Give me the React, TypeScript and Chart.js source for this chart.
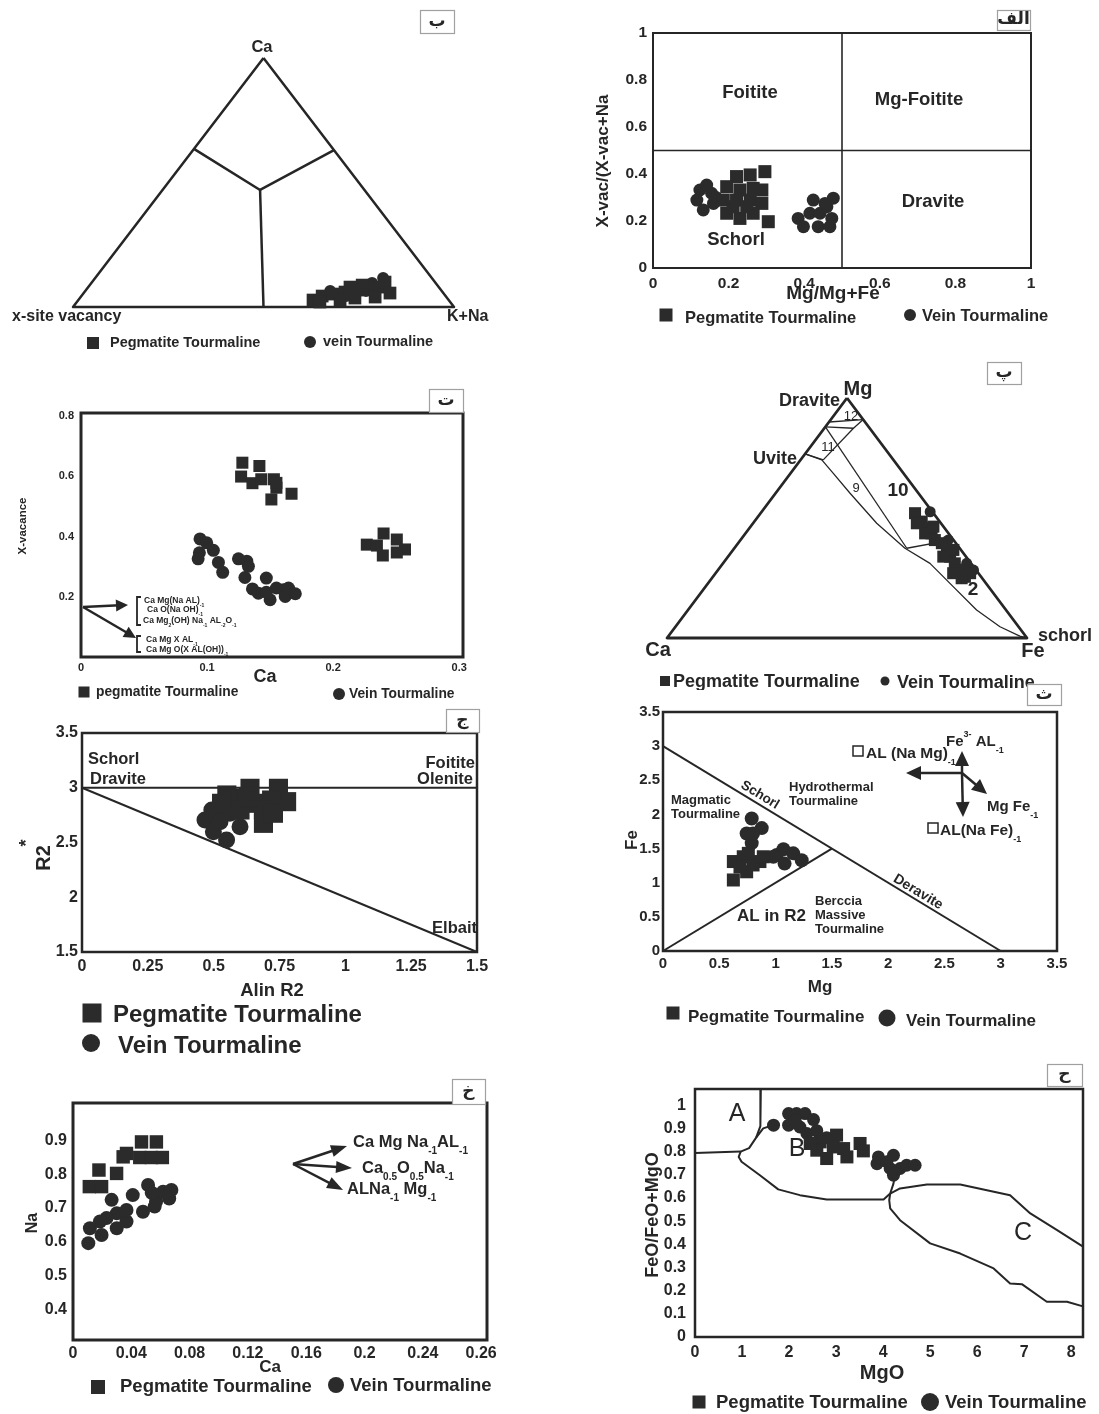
import React, { useEffect, useRef } from 'react';
import { Chart, registerables } from 'chart.js';

Chart.register(...registerables);

const SANS = '"Liberation Sans", Arial, Helvetica, sans-serif';
const ARABIC = '"DejaVu Sans", "Noto Sans", sans-serif';
const INK = '#262626';
const MARK = '#2b2b2b';

type Pt = number[];
type Ctx = CanvasRenderingContext2D;

// ================= DATA =================

// ---- Panel ب : X-site ternary, triples [Ca, X-vacancy, K+Na]
const beCorners: Pt[] = [[1, 0, 0], [0, 1, 0], [0, 0, 1], [1, 0, 0]];
const beCentre: Pt = [0.47, 0.274, 0.256];
const beLeftEdge: Pt = [0.635, 0.365, 0];
const beRightEdge: Pt = [0.63, 0, 0.37];
const beBase: Pt = [0, 0.5, 0.5];
const bePegmatite: Pt[] = [
  [0.028, 0.356, 0.616], [0.044, 0.324, 0.632], [0.052, 0.292, 0.656], [0.06, 0.256, 0.684],
  [0.068, 0.221, 0.711], [0.076, 0.188, 0.736], [0.08, 0.154, 0.766], [0.1, 0.131, 0.769],
  [0.04, 0.187, 0.773], [0.036, 0.242, 0.722], [0.028, 0.285, 0.687], [0.02, 0.342, 0.638],
  [0.056, 0.14, 0.804], [0.088, 0.197, 0.715], [0.08, 0.233, 0.687],
];
const beVein: Pt[] = [
  [0.116, 0.128, 0.756], [0.064, 0.199, 0.737], [0.044, 0.261, 0.695], [0.064, 0.293, 0.643], [0.096, 0.167, 0.737],
];

// ---- Panel الف : Mg/(Mg+Fe) vs X-vac/(X-vac+Na)
const alefTicks = [0, 0.2, 0.4, 0.6, 0.8, 1];
const alefTickLabels = ['0', '0.2', '0.4', '0.6', '0.8', '1'];
const alefDividerV: Pt[] = [[0.5, 0], [0.5, 1]];
const alefDividerH: Pt[] = [[0, 0.5], [1, 0.5]];
const alefPegmatite: Pt[] = [
  [0.296, 0.41], [0.257, 0.396], [0.221, 0.389], [0.195, 0.346], [0.23, 0.332], [0.265, 0.339],
  [0.288, 0.332], [0.186, 0.289], [0.221, 0.289], [0.257, 0.289], [0.288, 0.275], [0.195, 0.233],
  [0.23, 0.211], [0.265, 0.233], [0.305, 0.197], [0.248, 0.261], [0.212, 0.261],
];
const alefVein: Pt[] = [
  [0.124, 0.332], [0.142, 0.353], [0.116, 0.289], [0.133, 0.247], [0.16, 0.275], [0.155, 0.318], [0.167, 0.3],
  [0.384, 0.211], [0.398, 0.176], [0.424, 0.289], [0.437, 0.176], [0.46, 0.261], [0.477, 0.297],
  [0.468, 0.176], [0.473, 0.211], [0.415, 0.233], [0.442, 0.233], [0.455, 0.275],
];

// ---- Panel ت : Ca vs X-vacance
const teXTicks = [0, 0.1, 0.2, 0.3];
const teXTickLabels = ['0', '0.1', '0.2', '0.3'];
const teYTicks = [0.2, 0.4, 0.6, 0.8];
const teYTickLabels = ['0.2', '0.4', '0.6', '0.8'];
const tePegmatite: Pt[] = [
  [0.128, 0.645], [0.1415, 0.634], [0.127, 0.599], [0.136, 0.577], [0.143, 0.59], [0.153, 0.59],
  [0.155, 0.562], [0.151, 0.523], [0.167, 0.542], [0.155, 0.578],
  [0.2267, 0.373], [0.24, 0.41], [0.2505, 0.39], [0.257, 0.357], [0.2394, 0.337], [0.2505, 0.347], [0.2347, 0.37],
];
const teVein: Pt[] = [
  [0.0944, 0.392], [0.0997, 0.379], [0.105, 0.354], [0.0939, 0.346], [0.0929, 0.326], [0.109, 0.314],
  [0.1124, 0.281], [0.1249, 0.326], [0.1315, 0.318], [0.1328, 0.301], [0.13, 0.264], [0.147, 0.262],
  [0.136, 0.226], [0.1407, 0.212], [0.15, 0.19], [0.155, 0.229], [0.1606, 0.223], [0.162, 0.201],
  [0.17, 0.21], [0.1646, 0.229], [0.147, 0.215],
];

// ---- Panel پ : Ca-Fe-Mg ternary, triples [Ca, Mg, Fe]
const peCorners: Pt[] = [[0, 1, 0], [1, 0, 0], [0, 0, 1], [0, 1, 0]];
const peLine12: Pt[] = [[0.1, 0.9, 0], [0, 0.91, 0.09]];
const peLine11a: Pt[] = [[0.12, 0.88, 0], [0.045, 0.874, 0.081]];
const peLine11b: Pt[] = [[0, 0.91, 0.09], [0.045, 0.874, 0.081], [0.195, 0.742, 0.063]];
const peLine11c: Pt[] = [[0.233, 0.767, 0], [0.195, 0.742, 0.063]];
const peLine9: Pt[] = [[0.12, 0.88, 0], [0.147, 0.374, 0.479]];
const peLine2: Pt[] = [[0.147, 0.374, 0.479], [0, 0.41, 0.59]];
const peCurve: Pt[] = [
  [0.233, 0.767, 0], [0.199, 0.742, 0.059], [0.195, 0.686, 0.119], [0.19, 0.603, 0.207],
  [0.1785, 0.478, 0.3435], [0.152, 0.374, 0.474], [0.114, 0.311, 0.575], [0.098, 0.214, 0.688],
  [0.0815, 0.117, 0.8015], [0.0515, 0.047, 0.9015], [0.016, 0.008, 0.976], [0, 0, 1],
];
const pePegmatite: Pt[] = [
  [0.051, 0.52, 0.429], [0.05, 0.485, 0.465], [0.05, 0.457, 0.493], [0.047, 0.436, 0.517],
  [0.052, 0.408, 0.54], [0.039, 0.395, 0.566], [0.039, 0.367, 0.594], [0.044, 0.339, 0.617],
  [0.045, 0.311, 0.644], [0.045, 0.283, 0.672], [0.045, 0.255, 0.7], [0.023, 0.27, 0.707],
  [0.067, 0.478, 0.455], [0.065, 0.436, 0.499], [0.07, 0.27, 0.66], [0.057, 0.249, 0.694],
  [0.063, 0.339, 0.598], [0.028, 0.464, 0.508], [0.021, 0.367, 0.612],
];
const peVein: Pt[] = [[0.006, 0.526, 0.468], [0.015, 0.408, 0.577], [0.012, 0.311, 0.677], [0.007, 0.283, 0.71]];

// ---- Panel ج : Al in R2 vs R2*
const jimXTicks = [0, 0.25, 0.5, 0.75, 1, 1.25, 1.5];
const jimXTickLabels = ['0', '0.25', '0.5', '0.75', '1', '1.25', '1.5'];
const jimYTicks = [1.5, 2, 2.5, 3, 3.5];
const jimYTickLabels = ['1.5', '2', '2.5', '3', '3.5'];
const jimTopLine: Pt[] = [[0, 3], [1.5, 3]];
const jimDiagonal: Pt[] = [[0, 3], [1.5, 1.5]];
const jimPegmatite: Pt[] = [
  [0.638, 2.995], [0.746, 2.995], [0.777, 2.873], [0.72, 2.888], [0.575, 2.904], [0.55, 2.934],
  [0.651, 2.858], [0.6, 2.797], [0.689, 2.797], [0.689, 2.675], [0.727, 2.767], [0.632, 2.92], [0.53, 2.858],
];
const jimVein: Pt[] = [
  [0.493, 2.797], [0.467, 2.705], [0.499, 2.599], [0.549, 2.523], [0.6, 2.644], [0.512, 2.751], [0.562, 2.767], [0.524, 2.69],
];

// ---- Panel ث : Mg vs Fe
const theTicks = [0, 0.5, 1, 1.5, 2, 2.5, 3, 3.5];
const theTickLabels = ['0', '0.5', '1', '1.5', '2', '2.5', '3', '3.5'];
const theSchorlDravite: Pt[] = [[0, 3], [3, 0]];
const theAlInR2: Pt[] = [[0, 0], [1.5, 1.5]];
const thePegmatite: Pt[] = [
  [0.625, 1.04], [0.625, 1.31], [0.713, 1.38], [0.861, 1.31], [0.743, 1.16], [0.8, 1.26], [0.684, 1.23], [0.758, 1.43], [0.891, 1.38],
];
const theVein: Pt[] = [
  [0.788, 1.94], [0.743, 1.72], [0.877, 1.8], [0.788, 1.58], [0.8, 1.72], [1.01, 1.405], [1.07, 1.49],
  [1.08, 1.28], [1.157, 1.43], [1.232, 1.33], [0.98, 1.38],
];

// ---- Panel خ : Ca vs Na
const kheXTicks = [0, 0.04, 0.08, 0.12, 0.16, 0.2, 0.24, 0.28];
const kheXTickLabels = ['0', '0.04', '0.08', '0.12', '0.16', '0.2', '0.24', '0.26'];
const kheYTicks = [0.4, 0.5, 0.6, 0.7, 0.8, 0.9];
const kheYTickLabels = ['0.4', '0.5', '0.6', '0.7', '0.8', '0.9'];
const khePegmatite: Pt[] = [
  [0.0112, 0.763], [0.0196, 0.763], [0.0178, 0.812], [0.0344, 0.851], [0.0299, 0.802], [0.047, 0.895],
  [0.0572, 0.895], [0.0458, 0.849], [0.0538, 0.849], [0.0613, 0.849], [0.0367, 0.861],
];
const kheVein: Pt[] = [
  [0.0105, 0.596], [0.0116, 0.64], [0.0185, 0.66], [0.0196, 0.62], [0.0265, 0.724], [0.03, 0.684],
  [0.03, 0.64], [0.0367, 0.66], [0.041, 0.738], [0.0367, 0.694], [0.048, 0.689], [0.0515, 0.768],
  [0.057, 0.719], [0.056, 0.704], [0.0618, 0.748], [0.0675, 0.753], [0.066, 0.728], [0.054, 0.745], [0.023, 0.67],
];

// ---- Panel ح : MgO vs FeO/(FeO+MgO)
const heXTicks = [0, 1, 2, 3, 4, 5, 6, 7, 8];
const heXTickLabels = ['0', '1', '2', '3', '4', '5', '6', '7', '8'];
const heYTicks = [0, 0.1, 0.2, 0.3, 0.4, 0.5, 0.6, 0.7, 0.8, 0.9, 1];
const heYTickLabels = ['0', '0.1', '0.2', '0.3', '0.4', '0.5', '0.6', '0.7', '0.8', '0.9', '1'];
const heFieldA: Pt[] = [[1.4, 1.07], [1.39, 0.91], [1.3, 0.86], [1.15, 0.815], [0.97, 0.8], [0, 0.794]];
const heFieldBTop: Pt[] = [[1.3, 0.86], [1.45, 0.9], [1.75, 0.92]];
const heFieldB: Pt[] = [
  [0.97, 0.8], [0.93, 0.777], [0.99, 0.756], [1.38, 0.698], [1.77, 0.637], [2.23, 0.612], [2.8, 0.593],
  [4.01, 0.593], [4.15, 0.619], [4.22, 0.662], [4.26, 0.705],
];
const heFieldCUpper: Pt[] = [
  [4.15, 0.619], [4.36, 0.641], [4.93, 0.658], [5.64, 0.658], [6.7, 0.612], [7.13, 0.533], [7.7, 0.461], [8.25, 0.39],
];
const heFieldCLower: Pt[] = [
  [4.15, 0.619], [4.13, 0.59], [4.15, 0.555], [4.36, 0.504], [5.0, 0.404], [5.64, 0.36], [6.35, 0.296],
  [6.7, 0.231], [6.95, 0.228], [7.48, 0.152], [7.91, 0.152], [8.25, 0.132],
];
const hePegmatite: Pt[] = [
  [3.01, 0.871], [2.66, 0.842], [2.59, 0.806], [2.8, 0.77], [3.23, 0.777], [2.94, 0.82], [3.51, 0.835],
  [3.58, 0.803], [3.16, 0.813], [2.45, 0.835],
];
const heVein: Pt[] = [
  [1.67, 0.914], [1.99, 0.964], [2.16, 0.964], [2.34, 0.964], [2.52, 0.938], [1.99, 0.914], [2.23, 0.906],
  [2.38, 0.878], [3.9, 0.777], [3.87, 0.748], [4.22, 0.784], [4.15, 0.727], [4.22, 0.698], [4.36, 0.727],
  [4.5, 0.741], [4.68, 0.741], [4.08, 0.756], [2.13, 0.935], [2.8, 0.86], [2.59, 0.89],
];

// ================= HELPERS =================

const beXY = (t: Pt) => ({ x: t[2] + t[0] / 2, y: t[0] });
const peXY = (t: Pt) => ({ x: t[2] + t[1] / 2, y: t[1] });
const xy = (p: Pt) => ({ x: p[0], y: p[1] });

const squares = (data: any[], r: number) => ({
  data, pointStyle: 'rect', pointRadius: r, pointHoverRadius: r, backgroundColor: MARK,
  borderColor: MARK, borderWidth: 0, clip: false, order: 0,
});
const dots = (data: any[], r: number) => ({
  data, pointStyle: 'circle', pointRadius: r, pointHoverRadius: r, backgroundColor: MARK,
  borderColor: MARK, borderWidth: 0, clip: false, order: 0,
});
const path = (data: any[], w: number) => ({
  data, showLine: true, pointRadius: 0, pointHoverRadius: 0, borderColor: INK, backgroundColor: INK,
  borderWidth: w, fill: false, tension: 0, clip: false, order: 1, borderJoinStyle: 'round',
});

interface LabelOpts { align?: CanvasTextAlign; rot?: number; weight?: string; family?: string; color?: string }
function label(ctx: Ctx, s: string, x: number, y: number, size: number, o: LabelOpts = {}) {
  ctx.save();
  ctx.font = `${o.weight ?? 'bold'} ${size}px ${o.family ?? SANS}`;
  ctx.fillStyle = o.color ?? INK;
  ctx.textAlign = o.align ?? 'left';
  ctx.textBaseline = 'middle';
  ctx.translate(x, y);
  if (o.rot) ctx.rotate(o.rot);
  ctx.fillText(s, 0, 0);
  ctx.restore();
}

// segments: [text, 0 normal | 1 subscript | 2 superscript]
function rich(ctx: Ctx, segs: [string, number][], x: number, y: number, size: number) {
  ctx.save();
  ctx.fillStyle = INK;
  ctx.textAlign = 'left';
  ctx.textBaseline = 'alphabetic';
  let cx = x;
  const base = y + size * 0.36;
  for (const [s, k] of segs) {
    ctx.font = `bold ${k ? Math.round(size * 0.6) : size}px ${SANS}`;
    const dy = k === 1 ? size * 0.45 : k === 2 ? -size * 0.6 : 0;
    ctx.fillText(s, cx, base + dy);
    cx += ctx.measureText(s).width;
  }
  ctx.restore();
}

function arrow(ctx: Ctx, x1: number, y1: number, x2: number, y2: number, head = 12, half = 6, lw = 2.5) {
  const a = Math.atan2(y2 - y1, x2 - x1);
  const c = Math.cos(a), s = Math.sin(a);
  ctx.save();
  ctx.strokeStyle = INK;
  ctx.fillStyle = INK;
  ctx.lineWidth = lw;
  ctx.beginPath();
  ctx.moveTo(x1, y1);
  ctx.lineTo(x2 - c * head * 0.7, y2 - s * head * 0.7);
  ctx.stroke();
  ctx.beginPath();
  ctx.moveTo(x2, y2);
  ctx.lineTo(x2 - c * head + s * half, y2 - s * head - c * half);
  ctx.lineTo(x2 - c * head - s * half, y2 - s * head + c * half);
  ctx.closePath();
  ctx.fill();
  ctx.restore();
}

function legendSquare(ctx: Ctx, cx: number, cy: number, side: number) {
  ctx.save();
  ctx.fillStyle = MARK;
  ctx.fillRect(cx - side / 2, cy - side / 2, side, side);
  ctx.restore();
}
function legendDot(ctx: Ctx, cx: number, cy: number, r: number) {
  ctx.save();
  ctx.fillStyle = MARK;
  ctx.beginPath();
  ctx.arc(cx, cy, r, 0, Math.PI * 2);
  ctx.fill();
  ctx.restore();
}
function arabicBox(ctx: Ctx, s: string, l: number, t: number, r: number, b: number) {
  ctx.save();
  ctx.fillStyle = '#fff';
  ctx.fillRect(l, t, r - l, b - t);
  ctx.strokeStyle = '#a0a0a0';
  ctx.lineWidth = 1.2;
  ctx.strokeRect(l + 0.5, t + 0.5, r - l, b - t);
  ctx.restore();
  label(ctx, s, (l + r) / 2, (t + b) / 2, 17, { align: 'center', family: ARABIC });
}
function hollowSquare(ctx: Ctx, l: number, t: number, side: number) {
  ctx.save();
  ctx.strokeStyle = INK;
  ctx.lineWidth = 1.5;
  ctx.strokeRect(l, t, side, side);
  ctx.restore();
}

interface Axis { min: number; max: number; ticks?: number[]; labels?: string[]; font?: number; pad?: number }
interface Spec {
  box: number[]; // left, top, width, height (page px)
  plot: number[]; // left, top, right, bottom (page px)
  axes: boolean;
  x: Axis; y: Axis;
  yw?: number; xh?: number;
  frame?: number;
  datasets: any[];
  deco: (ctx: Ctx) => void;
}

function scaleOpts(a: Axis, show: boolean, isX: boolean, size: number): any {
  if (!show) return { type: 'linear', min: a.min, max: a.max, display: false };
  return {
    type: 'linear', min: a.min, max: a.max, display: true,
    grid: { display: false, drawTicks: false },
    border: { display: false },
    afterBuildTicks: (s: any) => { s.ticks = (a.ticks || []).map((v) => ({ value: v })); },
    afterFit: (s: any) => { if (isX) s.height = size; else s.width = size; },
    ticks: {
      autoSkip: false, maxRotation: 0, minRotation: 0, padding: a.pad ?? 6, color: INK,
      font: { family: SANS, size: a.font ?? 14, weight: 'bold' },
      callback: (_v: any, i: number) => (a.labels ? a.labels[i] : String(_v)),
    },
  };
}

function buildConfig(spec: Spec): any {
  const [bx, by, bw, bh] = spec.box;
  const [pl, pt, pr, pb] = spec.plot;
  const yw = spec.axes ? spec.yw ?? 44 : 0;
  const xh = spec.axes ? spec.xh ?? 30 : 0;
  return {
    type: 'scatter',
    data: { datasets: spec.datasets },
    options: {
      responsive: false,
      animation: false,
      events: [],
      layout: { padding: { left: pl - bx - yw, top: pt - by, right: bx + bw - pr, bottom: by + bh - pb - xh } },
      plugins: { legend: { display: false }, tooltip: { enabled: false }, title: { display: false } },
      scales: { x: scaleOpts(spec.x, spec.axes, true, xh), y: scaleOpts(spec.y, spec.axes, false, yw) },
    },
    plugins: [
      {
        id: 'frameAndDeco',
        beforeDatasetsDraw(chart: any) {
          if (!spec.frame) return;
          const a = chart.chartArea;
          const ctx = chart.ctx as Ctx;
          ctx.save();
          ctx.strokeStyle = INK;
          ctx.lineWidth = spec.frame;
          ctx.strokeRect(a.left, a.top, a.right - a.left, a.bottom - a.top);
          ctx.restore();
        },
        afterDraw(chart: any) {
          const ctx = chart.ctx as Ctx;
          ctx.save();
          ctx.translate(-bx, -by);
          spec.deco(ctx);
          ctx.restore();
        },
      },
    ],
  };
}

// ================= PANELS =================

const specBe: Spec = {
  box: [0, 0, 549, 360], plot: [73, 58, 454, 307], axes: false,
  x: { min: 0, max: 1 }, y: { min: 0, max: 1 },
  datasets: [
    squares(bePegmatite.map(beXY), 9),
    dots(beVein.map(beXY), 6),
    path(beCorners.map(beXY), 2.5),
    path([beLeftEdge, beCentre, beRightEdge].map(beXY), 2.5),
    path([beCentre, beBase].map(beXY), 2.5),
  ],
  deco: (c) => {
    label(c, 'Ca', 262, 47, 16.5, { align: 'center' });
    label(c, 'x-site vacancy', 12, 317, 16);
    label(c, 'K+Na', 447, 317, 16);
    legendSquare(c, 93, 343, 12);
    label(c, 'Pegmatite Tourmaline', 110, 343, 14.5);
    legendDot(c, 310, 342, 6);
    label(c, 'vein Tourmaline', 323, 342, 14.5);
    arabicBox(c, 'ب', 420, 10, 454, 33);
  },
};

const specAlef: Spec = {
  box: [549, 0, 550, 360], plot: [653, 33, 1031, 268], axes: true, frame: 2,
  x: { min: 0, max: 1, ticks: alefTicks, labels: alefTickLabels, font: 15.5, pad: 6 },
  y: { min: 0, max: 1, ticks: alefTicks, labels: alefTickLabels, font: 15.5, pad: 6 },
  datasets: [
    squares(alefPegmatite.map(xy), 9.2),
    dots(alefVein.map(xy), 6.5),
    path(alefDividerV.map(xy), 1.6),
    path(alefDividerH.map(xy), 1.6),
  ],
  deco: (c) => {
    label(c, 'Foitite', 750, 93, 18.5, { align: 'center' });
    label(c, 'Mg-Foitite', 919, 100, 18.5, { align: 'center' });
    label(c, 'Dravite', 933, 202, 18.5, { align: 'center' });
    label(c, 'Schorl', 736, 240, 18.5, { align: 'center' });
    label(c, 'X-vac/(X-vac+Na', 603, 161, 17, { align: 'center', rot: -Math.PI / 2 });
    label(c, 'Mg/Mg+Fe', 833, 294, 19, { align: 'center' });
    legendSquare(c, 666, 315, 13);
    label(c, 'Pegmatite Tourmaline', 685, 318, 16.5);
    legendDot(c, 910, 315, 6);
    label(c, 'Vein Tourmaline', 922, 316, 16.5);
    arabicBox(c, 'الف', 997, 10, 1030, 30);
  },
};

const specTe: Spec = {
  box: [0, 360, 549, 345], plot: [81, 413, 463, 657], axes: true, frame: 3, yw: 40, xh: 24,
  x: { min: 0, max: 0.303, ticks: teXTicks, labels: teXTickLabels, font: 11, pad: 4 },
  y: { min: 0, max: 0.81, ticks: teYTicks, labels: teYTickLabels, font: 11, pad: 7 },
  datasets: [squares(tePegmatite.map(xy), 8.5), dots(teVein.map(xy), 6.5)],
  deco: (c) => {
    label(c, 'X-vacance', 23, 526, 11.5, { align: 'center', rot: -Math.PI / 2 });
    label(c, 'Ca', 265, 677, 18, { align: 'center' });
    arrow(c, 83, 607, 128, 605, 12, 6, 2.5);
    arrow(c, 83, 607, 136, 638, 12, 6, 2.5);
    c.save();
    c.strokeStyle = INK;
    c.lineWidth = 1.8;
    c.beginPath();
    c.moveTo(141, 597); c.lineTo(137, 597); c.lineTo(137, 625); c.lineTo(141, 625);
    c.moveTo(141, 636); c.lineTo(137, 636); c.lineTo(137, 652); c.lineTo(141, 652);
    c.stroke();
    c.restore();
    rich(c, [['Ca Mg(Na AL)', 0], ['-1', 1]], 144, 600, 8.5);
    rich(c, [['Ca O(Na OH)', 0], ['-1', 1]], 147, 609, 8.5);
    rich(c, [['Ca Mg', 0], ['2', 1], ['(OH) Na', 0], ['-1', 1], [' AL', 0], ['-2', 1], ['O', 0], ['-1', 1]], 143, 620, 8.5);
    rich(c, [['Ca Mg X AL', 0], ['-1', 1]], 146, 639, 8.5);
    rich(c, [['Ca Mg O(X AL(OH))', 0], ['-1', 1]], 146, 649, 8.5);
    legendSquare(c, 84, 692, 11);
    label(c, 'pegmatite Tourmaline', 96, 692, 13.8);
    legendDot(c, 339, 694, 6);
    label(c, 'Vein Tourmaline', 349, 694, 13.8);
    arabicBox(c, 'ت', 429, 389, 463, 412);
  },
};

const specPe: Spec = {
  box: [549, 358, 550, 332], plot: [667, 398, 1027, 638], axes: false,
  x: { min: 0, max: 1 }, y: { min: 0, max: 1 },
  datasets: [
    squares(pePegmatite.map(peXY), 8.5),
    dots(peVein.map(peXY), 5.5),
    path(peCorners.map(peXY), 2.8),
    path(peLine12.map(peXY), 1.3),
    path(peLine11a.map(peXY), 1.3),
    path(peLine11b.map(peXY), 1.3),
    path(peLine11c.map(peXY), 1.3),
    path(peLine9.map(peXY), 1.3),
    path(peLine2.map(peXY), 1.3),
    path(peCurve.map(peXY), 1.3),
  ],
  deco: (c) => {
    label(c, 'Mg', 858, 389, 20, { align: 'center' });
    label(c, 'Dravite', 840, 401, 18, { align: 'right' });
    label(c, '12', 851, 416, 13, { align: 'center', weight: 'normal' });
    label(c, '11', 828, 447, 13, { align: 'center', weight: 'normal' });
    label(c, 'Uvite', 797, 459, 18, { align: 'right' });
    label(c, '9', 856, 488, 13, { align: 'center', weight: 'normal' });
    label(c, '10', 898, 491, 19, { align: 'center' });
    label(c, '2', 973, 590, 19, { align: 'center' });
    label(c, 'Ca', 658, 650, 20, { align: 'center' });
    label(c, 'Fe', 1033, 651, 20, { align: 'center' });
    label(c, 'schorl', 1038, 636, 18);
    legendSquare(c, 665, 681, 10);
    label(c, 'Pegmatite Tourmaline', 673, 682, 18);
    legendDot(c, 885, 681, 4.5);
    label(c, 'Vein Tourmaline', 897, 683, 18);
    arabicBox(c, 'پ', 987, 362, 1021, 384);
  },
};

const specJim: Spec = {
  box: [0, 705, 549, 360], plot: [82, 733, 477, 952], axes: true, frame: 2.5,
  x: { min: 0, max: 1.5, ticks: jimXTicks, labels: jimXTickLabels, font: 16, pad: 5 },
  y: { min: 1.5, max: 3.5, ticks: jimYTicks, labels: jimYTickLabels, font: 16, pad: 4 },
  datasets: [
    squares(jimPegmatite.map(xy), 13.5),
    dots(jimVein.map(xy), 8.5),
    path(jimTopLine.map(xy), 2),
    path(jimDiagonal.map(xy), 2),
  ],
  deco: (c) => {
    label(c, 'Schorl', 88, 759, 16.5);
    label(c, 'Dravite', 90, 779, 16.5);
    label(c, 'Foitite', 475, 763, 16.5, { align: 'right' });
    label(c, 'Olenite', 473, 779, 16.5, { align: 'right' });
    label(c, 'Elbait', 477, 928, 16.5, { align: 'right' });
    label(c, 'R2', 44, 858, 20, { align: 'center', rot: -Math.PI / 2 });
    label(c, '*', 27, 843, 18, { align: 'center', rot: -Math.PI / 2 });
    label(c, 'Alin R2', 272, 991, 18.5, { align: 'center' });
    legendSquare(c, 92, 1013, 19);
    label(c, 'Pegmatite Tourmaline', 113, 1015, 24);
    legendDot(c, 91, 1043, 9);
    label(c, 'Vein Tourmaline', 118, 1046, 24);
    arabicBox(c, 'ج', 446, 709, 479, 732);
  },
};

const specThe: Spec = {
  box: [549, 680, 550, 360], plot: [663, 712, 1057, 951], axes: true, frame: 2.5, yw: 40,
  x: { min: 0, max: 3.5, ticks: theTicks, labels: theTickLabels, font: 15, pad: 4 },
  y: { min: 0, max: 3.5, ticks: theTicks, labels: theTickLabels, font: 15, pad: 3 },
  datasets: [
    squares(thePegmatite.map(xy), 9.2),
    dots(theVein.map(xy), 7),
    path(theSchorlDravite.map(xy), 2),
    path(theAlInR2.map(xy), 2),
  ],
  deco: (c) => {
    const ang = Math.atan2(205, 338);
    label(c, 'Schorl', 760, 795, 13.5, { align: 'center', rot: ang });
    label(c, 'Deravite', 918, 892, 14, { align: 'center', rot: ang });
    label(c, 'Magmatic', 671, 800, 13);
    label(c, 'Tourmaline', 671, 814, 13);
    label(c, 'Hydrothermal', 789, 787, 13);
    label(c, 'Tourmaline', 789, 801, 13);
    label(c, 'AL in R2', 737, 916, 17);
    label(c, 'Berccia', 815, 901, 13);
    label(c, 'Massive', 815, 915, 13);
    label(c, 'Tourmaline', 815, 929, 13);
    arrow(c, 962, 773, 962, 751, 15, 7, 2.5);
    arrow(c, 962, 773, 963, 817, 15, 7, 2.5);
    arrow(c, 962, 773, 906, 773, 15, 7, 2.5);
    arrow(c, 962, 773, 987, 794, 15, 7, 2.5);
    hollowSquare(c, 853, 746, 10);
    rich(c, [['AL (Na Mg)', 0], ['-1', 1]], 866, 752, 15.5);
    rich(c, [['Fe', 0], ['3-', 2], [' AL', 0], ['-1', 1]], 946, 741, 15);
    rich(c, [['Mg Fe', 0], ['-1', 1]], 987, 806, 15);
    hollowSquare(c, 928, 823, 10);
    rich(c, [['AL(Na Fe)', 0], ['-1', 1]], 940, 829, 15.5);
    label(c, 'Fe', 632, 840, 17, { align: 'center', rot: -Math.PI / 2 });
    label(c, 'Mg', 820, 987, 17, { align: 'center' });
    legendSquare(c, 673, 1013, 13);
    label(c, 'Pegmatite Tourmaline', 688, 1017, 17);
    legendDot(c, 887, 1018, 8.5);
    label(c, 'Vein Tourmaline', 906, 1021, 17);
    arabicBox(c, 'ث', 1027, 684, 1061, 705);
  },
};

const specKhe: Spec = {
  box: [0, 1065, 549, 349], plot: [73, 1103, 487, 1340], axes: true, frame: 3, xh: 28,
  x: { min: 0, max: 0.284, ticks: kheXTicks, labels: kheXTickLabels, font: 16, pad: 4 },
  y: { min: 0.31, max: 1.01, ticks: kheYTicks, labels: kheYTickLabels, font: 16, pad: 6 },
  datasets: [squares(khePegmatite.map(xy), 9.5), dots(kheVein.map(xy), 7)],
  deco: (c) => {
    arrow(c, 293, 1164, 347, 1146, 16, 6, 2.5);
    arrow(c, 293, 1164, 352, 1168, 16, 6, 2.5);
    arrow(c, 293, 1164, 343, 1190, 16, 6, 2.5);
    rich(c, [['Ca Mg Na', 0], ['-1', 1], ['AL', 0], ['-1', 1]], 353, 1141, 16.5);
    rich(c, [['Ca', 0], ['0.5', 1], ['O', 0], ['0.5', 1], ['Na', 0], ['-1', 1]], 362, 1167, 16.5);
    rich(c, [['ALNa', 0], ['-1', 1], [' Mg', 0], ['-1', 1]], 347, 1188, 16.5);
    label(c, 'Na', 33, 1223, 16, { align: 'center', rot: -Math.PI / 2 });
    label(c, 'Ca', 270, 1367, 17, { align: 'center' });
    legendSquare(c, 98, 1387, 14);
    label(c, 'Pegmatite Tourmaline', 120, 1387, 18.5);
    legendDot(c, 336, 1385, 8);
    label(c, 'Vein Tourmaline', 350, 1386, 18.5);
    arabicBox(c, 'خ', 452, 1079, 485, 1104);
  },
};

const specHe: Spec = {
  box: [549, 1045, 550, 369], plot: [695, 1089, 1083, 1337], axes: true, frame: 2.5,
  x: { min: 0, max: 8.25, ticks: heXTicks, labels: heXTickLabels, font: 16, pad: 6 },
  y: { min: 0, max: 1.07, ticks: heYTicks, labels: heYTickLabels, font: 16, pad: 9 },
  datasets: [
    squares(hePegmatite.map(xy), 9.2),
    dots(heVein.map(xy), 6.5),
    path(heFieldA.map(xy), 2),
    path(heFieldBTop.map(xy), 2),
    path(heFieldB.map(xy), 2),
    path(heFieldCUpper.map(xy), 2),
    path(heFieldCLower.map(xy), 2),
  ],
  deco: (c) => {
    label(c, 'A', 737, 1114, 25, { align: 'center', weight: 'normal' });
    label(c, 'B', 797, 1149, 25, { align: 'center', weight: 'normal' });
    label(c, 'C', 1023, 1233, 25, { align: 'center', weight: 'normal' });
    label(c, 'FeO/FeO+MgO', 653, 1215, 18, { align: 'center', rot: -Math.PI / 2 });
    label(c, 'MgO', 882, 1373, 20, { align: 'center' });
    legendSquare(c, 699, 1402, 13);
    label(c, 'Pegmatite Tourmaline', 716, 1403, 18.5);
    legendDot(c, 930, 1402, 9);
    label(c, 'Vein Tourmaline', 945, 1403, 18.5);
    arabicBox(c, 'ح', 1047, 1064, 1082, 1086);
  },
};

const SPECS: Spec[] = [specBe, specAlef, specTe, specPe, specJim, specThe, specKhe, specHe];

function Panel({ spec }: { spec: Spec }) {
  const ref = useRef<HTMLCanvasElement>(null);
  useEffect(() => {
    if (!ref.current) return;
    const chart = new Chart(ref.current, buildConfig(spec));
    return () => chart.destroy();
  }, [spec]);
  const [l, t, w, h] = spec.box;
  return (
    <canvas
      ref={ref}
      width={w}
      height={h}
      style={{ position: 'absolute', left: l, top: t, width: w, height: h }}
    />
  );
}

export default function App() {
  return (
    <div
      style={{
        position: 'absolute', left: 0, top: 0, width: 1099, height: 1414,
        background: '#ffffff', overflow: 'hidden',
      }}
    >
      {SPECS.map((s, i) => (
        <Panel key={i} spec={s} />
      ))}
    </div>
  );
}
